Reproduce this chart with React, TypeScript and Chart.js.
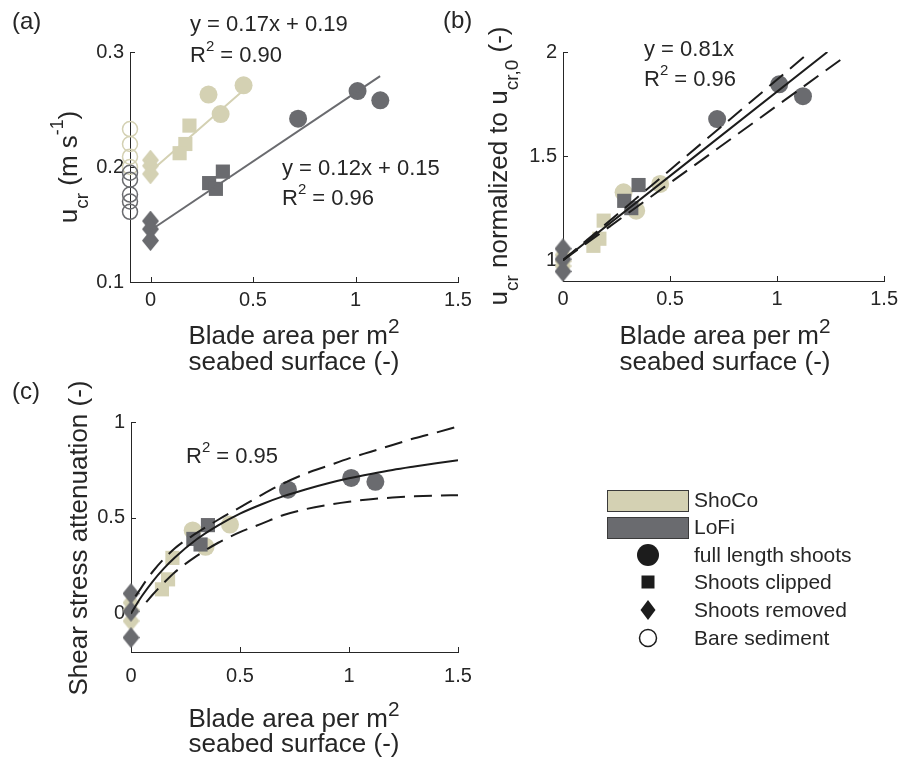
import React, { useEffect, useRef } from 'react';
import { Chart, registerables } from 'chart.js';

Chart.register(...registerables);

// ---------------- data ----------------
// shared blade-area values (x) for vegetated treatments
const SHOCO_FULL_X = [0.283, 0.342, 0.454];
const SHOCO_CLIP_X = [0.19, 0.17, 0.142];
const LOFI_FULL_X = [0.72, 1.01, 1.121];
const LOFI_CLIP_X = [0.353, 0.286, 0.319];
const REMOVED_X = 0;
const BARE_X = -0.1;

// panel (a): u_cr (m/s)
const A_SHOCO_FULL = [0.263, 0.246, 0.271];
const A_SHOCO_CLIP = [0.236, 0.22, 0.212];
const A_SHOCO_REMOVED = [0.206, 0.201, 0.194];
const A_SHOCO_BARE = [0.233, 0.22, 0.209, 0.2];
const A_LOFI_FULL = [0.242, 0.266, 0.258];
const A_LOFI_CLIP = [0.196, 0.186, 0.181];
const A_LOFI_REMOVED = [0.153, 0.146, 0.136];
const A_LOFI_BARE = [0.195, 0.189, 0.176, 0.17, 0.161];
const A_SHOCO_FIT_X = [0, 0.455];
const A_SHOCO_FIT_Y = [0.196, 0.267];
const A_LOFI_FIT_X = [0, 1.12];
const A_LOFI_FIT_Y = [0.145, 0.279];

// panel (b): u_cr normalised to u_cr,0
const B_SHOCO_FULL = [1.326, 1.238, 1.366];
const B_SHOCO_CLIP = [1.19, 1.103, 1.069];
const B_SHOCO_REMOVED = [1.025, 0.995, 0.972];
const B_LOFI_FULL = [1.678, 1.845, 1.788];
const B_LOFI_CLIP = [1.361, 1.285, 1.25];
const B_LOFI_REMOVED = [1.055, 1.005, 0.946];
const B_FIT_X = [0, 1.235];
const B_FIT_Y = [1, 2.0];
const B_UP_X = [0, 1.13];
const B_UP_Y = [1, 1.98];
const B_LO_X = [0, 1.3];
const B_LO_Y = [1, 1.965];

// panel (c): shear stress attenuation
const C_SHOCO_FULL = [0.434, 0.349, 0.465];
const C_SHOCO_CLIP = [0.291, 0.179, 0.127];
const C_SHOCO_REMOVED = [0.057, 0.02, -0.038];
const C_LOFI_FULL = [0.647, 0.708, 0.688];
const C_LOFI_CLIP = [0.462, 0.39, 0.361];
const C_LOFI_REMOVED = [0.105, 0.012, -0.125];
const C_FIT_X = [0, 0.025, 0.05, 0.1, 0.15, 0.2, 0.3, 0.4, 0.5, 0.6, 0.7, 0.8, 0.9, 1.0, 1.1, 1.2, 1.3, 1.4, 1.5];
const C_FIT_Y = [0, 0.048, 0.092, 0.169, 0.235, 0.292, 0.387, 0.461, 0.522, 0.571, 0.613, 0.648, 0.679, 0.706, 0.729, 0.75, 0.768, 0.785, 0.8];
const C_UP_X = [0.02, 0.1, 0.2, 0.3, 0.4, 0.5, 0.6, 0.7, 0.8, 0.9, 1.0, 1.1, 1.2, 1.3, 1.4, 1.5];
const C_UP_Y = [0.09, 0.22, 0.34, 0.42, 0.49, 0.555, 0.62, 0.68, 0.73, 0.77, 0.81, 0.845, 0.88, 0.915, 0.945, 0.977];
const C_LO_X = [0.07, 0.1, 0.15, 0.2, 0.3, 0.4, 0.5, 0.6, 0.7, 0.8, 0.9, 1.0, 1.1, 1.2, 1.3, 1.4, 1.5];
const C_LO_Y = [0.06, 0.1, 0.16, 0.215, 0.3, 0.37, 0.425, 0.47, 0.515, 0.545, 0.567, 0.584, 0.597, 0.606, 0.612, 0.616, 0.618];

// ticks
const AC_X_TICKS = [0, 0.5, 1, 1.5];
const A_Y_TICKS = [0.1, 0.2, 0.3];
const B_Y_TICKS = [1, 1.5, 2];
const C_Y_TICKS = [0, 0.5, 1];

// legend labels
const GROUP_LABELS = ['ShoCo', 'LoFi'];
const TREATMENT_LABELS = ['full length shoots', 'Shoots clipped', 'Shoots removed', 'Bare sediment'];

// ---------------- style ----------------
const W = 904;
const H = 757;
const FONT = '"Liberation Sans", Arial, Helvetica, sans-serif';
const SHOCO = '#d4d1b3';
const LOFI = '#6a6b6f';
const INK = '#262626';
const BLACK = '#1c1c1c';

type Seg = { t: string; k?: number; d?: number };
type TextItem = { segs: Seg[]; x: number; y: number; size: number; align?: 'left' | 'center'; rot?: number };
const SUP: Partial<Seg> = { k: 0.68, d: -0.52 };
const SUB: Partial<Seg> = { k: 0.73, d: 0.42 };
const AXSUP: Partial<Seg> = { k: 0.8, d: -0.42 };

const pts = (xs: number[], ys: number[]) => xs.map((x, i) => ({ x, y: ys[i] }));
const atX = (x: number, ys: number[]) => ys.map((y) => ({ x, y }));

function drawText(ctx: CanvasRenderingContext2D, it: TextItem) {
  ctx.save();
  ctx.translate(it.x, it.y);
  if (it.rot) ctx.rotate(it.rot);
  ctx.fillStyle = INK;
  ctx.textBaseline = 'alphabetic';
  ctx.textAlign = 'left';
  const parts = it.segs.map((s) => {
    const size = it.size * (s.k ?? 1);
    ctx.font = `${size}px ${FONT}`;
    return { s, size, w: ctx.measureText(s.t).width };
  });
  const total = parts.reduce((a, p) => a + p.w, 0);
  let cx = it.align === 'center' ? -total / 2 : 0;
  for (const p of parts) {
    ctx.font = `${p.size}px ${FONT}`;
    ctx.fillText(p.s.t, cx, it.size * (p.s.d ?? 0));
    cx += p.w;
  }
  ctx.restore();
}

function diamondPath(ctx: CanvasRenderingContext2D, cx: number, cy: number, w: number, h: number) {
  ctx.beginPath();
  ctx.moveTo(cx, cy - h / 2);
  ctx.lineTo(cx + w / 2, cy);
  ctx.lineTo(cx, cy + h / 2);
  ctx.lineTo(cx - w / 2, cy);
  ctx.closePath();
}

function diamondImage(color: string) {
  const c = document.createElement('canvas');
  c.width = 17;
  c.height = 21;
  const g = c.getContext('2d')!;
  g.fillStyle = color;
  diamondPath(g, 8.5, 10.5, 17, 21);
  g.fill();
  return c;
}

function markers(data: any[], color: string, kind: string, order: number) {
  const base: any = { type: 'scatter', data, order, clip: false, showLine: false, borderWidth: 0 };
  if (kind === 'circle') return { ...base, pointStyle: 'circle', pointRadius: 9, backgroundColor: color, borderColor: color };
  if (kind === 'square') return { ...base, pointStyle: 'rect', pointRadius: 10, backgroundColor: color, borderColor: color };
  if (kind === 'diamond') return { ...base, pointStyle: diamondImage(color), pointRadius: 10, backgroundColor: color, borderColor: color };
  return { ...base, pointStyle: 'circle', pointRadius: 7.5, backgroundColor: 'rgba(0,0,0,0)', borderColor: color, borderWidth: 1.5 };
}

function line(data: any[], color: string, dash: number[] = [], width = 2) {
  return {
    type: 'scatter',
    data,
    order: 0,
    showLine: true,
    pointRadius: 0,
    borderColor: color,
    backgroundColor: color,
    borderWidth: width,
    borderDash: dash,
    fill: false,
    cubicInterpolationMode: 'monotone',
  };
}

function overlayPlugin(id: string, texts: TextItem[], extra?: (ctx: CanvasRenderingContext2D) => void) {
  return {
    id,
    beforeDatasetsDraw(chart: any) {
      const ctx = chart.ctx as CanvasRenderingContext2D;
      const a = chart.chartArea;
      const xs = chart.scales.x;
      const ys = chart.scales.y;
      ctx.save();
      ctx.strokeStyle = INK;
      ctx.lineWidth = 1;
      ctx.beginPath();
      for (const t of xs.ticks) {
        const px = Math.round(xs.getPixelForValue(t.value)) + 0.5;
        ctx.moveTo(px, a.bottom);
        ctx.lineTo(px, a.bottom - 5);
      }
      for (const t of ys.ticks) {
        const py = Math.round(ys.getPixelForValue(t.value)) + 0.5;
        ctx.moveTo(a.left, py);
        ctx.lineTo(a.left + 5, py);
      }
      ctx.stroke();
      ctx.restore();
    },
    afterDraw(chart: any) {
      const ctx = chart.ctx as CanvasRenderingContext2D;
      texts.forEach((t) => drawText(ctx, t));
      if (extra) extra(ctx);
    },
  };
}

function options(p: {
  xMin: number; xMax: number; yMin: number; yMax: number;
  xTicks: number[]; yTicks: number[];
  l: number; t: number; r: number; b: number; xPad: number;
}) {
  const yW = 60;
  const xH = 40;
  const tickFont = { family: FONT, size: 20 };
  return {
    responsive: false,
    animation: false,
    events: [],
    layout: { padding: { left: p.l - yW, top: p.t, right: W - p.r, bottom: H - p.b - xH } },
    plugins: { legend: { display: false }, tooltip: { enabled: false }, title: { display: false } },
    scales: {
      x: {
        type: 'linear',
        min: p.xMin,
        max: p.xMax,
        afterBuildTicks: (s: any) => { s.ticks = p.xTicks.map((v) => ({ value: v })); },
        afterFit: (s: any) => { s.height = xH; },
        grid: { display: false, drawTicks: false, tickLength: 0 },
        border: { display: true, color: INK, width: 1 },
        ticks: { padding: p.xPad, color: INK, font: tickFont, autoSkip: false, maxRotation: 0, callback: (v: any) => String(v) },
      },
      y: {
        type: 'linear',
        min: p.yMin,
        max: p.yMax,
        afterBuildTicks: (s: any) => { s.ticks = p.yTicks.map((v) => ({ value: v })); },
        afterFit: (s: any) => { s.width = yW; },
        grid: { display: false, drawTicks: false, tickLength: 0 },
        border: { display: true, color: INK, width: 1 },
        ticks: { padding: 6, color: INK, font: tickFont, autoSkip: false, callback: (v: any) => String(v) },
      },
    },
  };
}

const xTitle = (cx: number, y1: number, y2: number): TextItem[] => [
  { segs: [{ t: 'Blade area per m' }, { t: '2', ...AXSUP }], x: cx, y: y1, size: 26, align: 'center' },
  { segs: [{ t: 'seabed surface (-)' }], x: cx, y: y2, size: 26, align: 'center' },
];

function configA(): any {
  const texts: TextItem[] = [
    { segs: [{ t: '(a)' }], x: 12, y: 29, size: 24 },
    { segs: [{ t: 'y = 0.17x + 0.19' }], x: 190, y: 31, size: 22 },
    { segs: [{ t: 'R' }, { t: '2', ...SUP }, { t: ' = 0.90' }], x: 190, y: 62, size: 22 },
    { segs: [{ t: 'y = 0.12x + 0.15' }], x: 282, y: 175, size: 22 },
    { segs: [{ t: 'R' }, { t: '2', ...SUP }, { t: ' = 0.96' }], x: 282, y: 205, size: 22 },
    ...xTitle(294, 344, 370),
    {
      segs: [{ t: 'u' }, { t: 'cr', ...SUB }, { t: ' (m s' }, { t: '-1', ...SUP }, { t: ')' }],
      x: 77, y: 167, size: 26, align: 'center', rot: -Math.PI / 2,
    },
  ];
  return {
    type: 'scatter',
    data: {
      datasets: [
        line(pts(A_SHOCO_FIT_X, A_SHOCO_FIT_Y), SHOCO),
        line(pts(A_LOFI_FIT_X, A_LOFI_FIT_Y), LOFI),
        markers(pts(LOFI_FULL_X, A_LOFI_FULL), LOFI, 'circle', 1),
        markers(pts(LOFI_CLIP_X, A_LOFI_CLIP), LOFI, 'square', 1),
        markers(atX(REMOVED_X, A_LOFI_REMOVED), LOFI, 'diamond', 1),
        markers(atX(BARE_X, A_LOFI_BARE), LOFI, 'open', 1),
        markers(pts(SHOCO_FULL_X, A_SHOCO_FULL), SHOCO, 'circle', 2),
        markers(pts(SHOCO_CLIP_X, A_SHOCO_CLIP), SHOCO, 'square', 2),
        markers(atX(REMOVED_X, A_SHOCO_REMOVED), SHOCO, 'diamond', 2),
        markers(atX(BARE_X, A_SHOCO_BARE), SHOCO, 'open', 2),
      ],
    },
    options: options({ xMin: -0.1, xMax: 1.5, yMin: 0.1, yMax: 0.3, xTicks: AC_X_TICKS, yTicks: A_Y_TICKS, l: 130, t: 52, r: 458, b: 282, xPad: 6 }),
    plugins: [overlayPlugin('overlayA', texts)],
  };
}

function configB(): any {
  const texts: TextItem[] = [
    { segs: [{ t: '(b)' }], x: 443, y: 28, size: 24 },
    { segs: [{ t: 'y = 0.81x' }], x: 644, y: 56, size: 22 },
    { segs: [{ t: 'R' }, { t: '2', ...SUP }, { t: ' = 0.96' }], x: 644, y: 86, size: 22 },
    ...xTitle(725, 344, 370),
    {
      segs: [{ t: 'u' }, { t: 'cr', ...SUB }, { t: ' normalized to u' }, { t: 'cr,0', ...SUB }, { t: ' (-)' }],
      x: 507, y: 166, size: 26, align: 'center', rot: -Math.PI / 2,
    },
  ];
  return {
    type: 'scatter',
    data: {
      datasets: [
        line(pts(B_FIT_X, B_FIT_Y), BLACK),
        line(pts(B_UP_X, B_UP_Y), BLACK, [18, 9]),
        line(pts(B_LO_X, B_LO_Y), BLACK, [18, 9]),
        markers(pts(LOFI_FULL_X, B_LOFI_FULL), LOFI, 'circle', 1),
        markers(pts(LOFI_CLIP_X, B_LOFI_CLIP), LOFI, 'square', 1),
        markers(atX(REMOVED_X, B_LOFI_REMOVED), LOFI, 'diamond', 1),
        markers(pts(SHOCO_FULL_X, B_SHOCO_FULL), SHOCO, 'circle', 2),
        markers(pts(SHOCO_CLIP_X, B_SHOCO_CLIP), SHOCO, 'square', 2),
        markers(atX(REMOVED_X, B_SHOCO_REMOVED), SHOCO, 'diamond', 2),
      ],
    },
    options: options({ xMin: 0, xMax: 1.5, yMin: 0.9, yMax: 2, xTicks: AC_X_TICKS, yTicks: B_Y_TICKS, l: 563, t: 52, r: 888, b: 281, xPad: 6 }),
    plugins: [overlayPlugin('overlayB', texts)],
  };
}

function drawLegend(ctx: CanvasRenderingContext2D) {
  ctx.save();
  const boxFills = [SHOCO, LOFI];
  const boxTops = [490, 517];
  GROUP_LABELS.forEach((lab, i) => {
    ctx.fillStyle = boxFills[i];
    ctx.fillRect(607, boxTops[i], 81, 21);
    ctx.strokeStyle = '#3a3a3a';
    ctx.lineWidth = 1;
    ctx.strokeRect(607.5, boxTops[i] + 0.5, 81, 21);
    drawText(ctx, { segs: [{ t: lab }], x: 694, y: boxTops[i] + 17, size: 21 });
  });
  const cx = 648;
  const rows = [555, 582, 610, 638];
  ctx.fillStyle = BLACK;
  ctx.beginPath();
  ctx.arc(cx, rows[0], 11, 0, Math.PI * 2);
  ctx.fill();
  ctx.fillRect(cx - 6.5, rows[1] - 6.5, 13, 13);
  diamondPath(ctx, cx, rows[2], 15, 20);
  ctx.fill();
  ctx.beginPath();
  ctx.arc(cx, rows[3], 8.5, 0, Math.PI * 2);
  ctx.strokeStyle = BLACK;
  ctx.lineWidth = 1.5;
  ctx.stroke();
  TREATMENT_LABELS.forEach((lab, i) => {
    drawText(ctx, { segs: [{ t: lab }], x: 694, y: rows[i] + 7, size: 21 });
  });
  ctx.restore();
}

function configC(): any {
  const texts: TextItem[] = [
    { segs: [{ t: '(c)' }], x: 12, y: 399, size: 24 },
    { segs: [{ t: 'R' }, { t: '2', ...SUP }, { t: ' = 0.95' }], x: 186, y: 463, size: 22 },
    ...xTitle(294, 727, 752),
    { segs: [{ t: 'Shear stress attenuation (-)' }], x: 87, y: 538, size: 26, align: 'center', rot: -Math.PI / 2 },
  ];
  return {
    type: 'scatter',
    data: {
      datasets: [
        line(pts(C_FIT_X, C_FIT_Y), BLACK),
        line(pts(C_UP_X, C_UP_Y), BLACK, [18, 9]),
        line(pts(C_LO_X, C_LO_Y), BLACK, [18, 9]),
        markers(pts(LOFI_FULL_X, C_LOFI_FULL), LOFI, 'circle', 1),
        markers(pts(LOFI_CLIP_X, C_LOFI_CLIP), LOFI, 'square', 1),
        markers(atX(REMOVED_X, C_LOFI_REMOVED), LOFI, 'diamond', 1),
        markers(pts(SHOCO_FULL_X, C_SHOCO_FULL), SHOCO, 'circle', 2),
        markers(pts(SHOCO_CLIP_X, C_SHOCO_CLIP), SHOCO, 'square', 2),
        markers(atX(REMOVED_X, C_SHOCO_REMOVED), SHOCO, 'diamond', 2),
      ],
    },
    options: options({ xMin: 0, xMax: 1.5, yMin: -0.2, yMax: 1, xTicks: AC_X_TICKS, yTicks: C_Y_TICKS, l: 131, t: 422, r: 458, b: 652, xPad: 12 }),
    plugins: [overlayPlugin('overlayC', texts, drawLegend)],
  };
}

export default function App() {
  const ra = useRef<HTMLCanvasElement>(null);
  const rb = useRef<HTMLCanvasElement>(null);
  const rc = useRef<HTMLCanvasElement>(null);

  useEffect(() => {
    const charts = [
      new Chart(ra.current!, configA()),
      new Chart(rb.current!, configB()),
      new Chart(rc.current!, configC()),
    ];
    return () => charts.forEach((c) => c.destroy());
  }, []);

  const cs: React.CSSProperties = { position: 'absolute', left: 0, top: 0, width: W, height: H };
  return (
    <div style={{ position: 'absolute', left: 0, top: 0, width: W, height: H, background: '#fff' }}>
      <canvas ref={ra} width={W} height={H} style={cs} />
      <canvas ref={rb} width={W} height={H} style={cs} />
      <canvas ref={rc} width={W} height={H} style={cs} />
    </div>
  );
}
